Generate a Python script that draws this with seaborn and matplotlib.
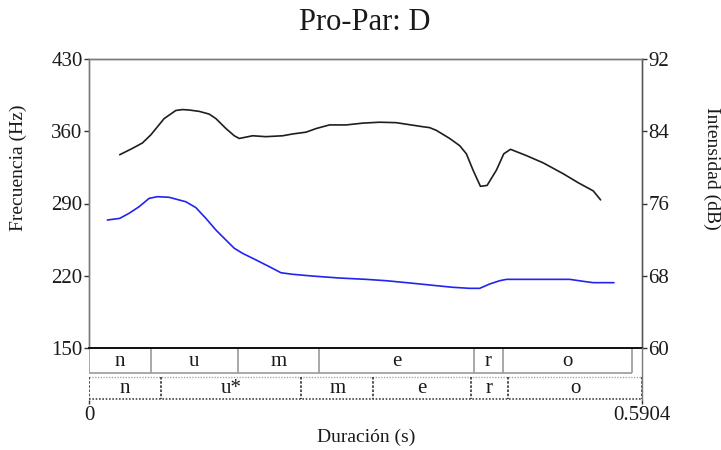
import matplotlib
matplotlib.use("Agg")
import matplotlib.pyplot as plt
import seaborn as sns
import pandas as pd

# ---- data ----
title = "Pro-Par: D"
t_max = 0.5904

f0_time = [0.0196, 0.0328, 0.0428, 0.0535, 0.0642, 0.0731, 0.0856, 0.0963, 0.1034, 0.1141,
           0.1248, 0.1355, 0.1462, 0.1551, 0.1640, 0.1783, 0.1925, 0.2050, 0.2175, 0.2388,
           0.2674, 0.2960, 0.3173, 0.3458, 0.3708, 0.3886, 0.4064, 0.4171, 0.4278, 0.4385,
           0.4457, 0.5134, 0.5276, 0.5383, 0.5605]
f0_hz = [274.0, 275.6, 280.5, 286.9, 295.0, 296.6, 296.0, 293.4, 291.7, 286.0,
         275.6, 264.3, 254.6, 246.6, 241.7, 235.3, 228.8, 222.9, 221.4, 219.7,
         217.8, 216.5, 215.2, 212.7, 210.4, 208.8, 207.8, 207.8, 212.0, 215.2,
         216.5, 216.5, 214.6, 213.3, 213.3]

int_time = [0.0328, 0.0463, 0.0570, 0.0660, 0.0802, 0.0927, 0.0998, 0.1070, 0.1177, 0.1283,
            0.1355, 0.1462, 0.1551, 0.1604, 0.1747, 0.1890, 0.2068, 0.2175, 0.2318, 0.2425,
            0.2567, 0.2746, 0.2923, 0.3102, 0.3280, 0.3565, 0.3637, 0.3708, 0.3851, 0.3958,
            0.4029, 0.4100, 0.4179, 0.4250, 0.4350, 0.4428, 0.4500, 0.4671, 0.4849, 0.5062,
            0.5223, 0.5383, 0.5462]
int_db = [81.4, 82.1, 82.7, 83.6, 85.4, 86.3, 86.4, 86.35, 86.2, 85.9,
          85.4, 84.3, 83.5, 83.2, 83.5, 83.4, 83.5, 83.7, 83.9, 84.3,
          84.7, 84.7, 84.9, 85.0, 84.95, 84.5, 84.4, 84.1, 83.2, 82.4,
          81.5, 79.7, 77.9, 78.0, 79.7, 81.5, 82.0, 81.3, 80.5, 79.3,
          78.3, 77.4, 76.4]

tier1_bounds = [0.0, 0.0659, 0.1588, 0.2454, 0.4108, 0.4418, 0.5794]
tier1_labels = ["n", "u", "m", "e", "r", "o"]
tier2_bounds = [0.0, 0.0764, 0.2267, 0.3034, 0.4077, 0.4476, 0.5904]
tier2_labels = ["n", "u*", "m", "e", "r", "o"]

f0_ticks = [150, 220, 290, 360, 430]
db_ticks = [60, 68, 76, 84, 92]

# ---- style ----
sns.set_theme(style="white")
plt.rcParams["font.family"] = ["Liberation Serif", "DejaVu Serif"]
plt.rcParams["text.color"] = "#1a1a1a"

W, H = 721, 450
fig = plt.figure(figsize=(W / 100, H / 100), dpi=100)
fig.patch.set_facecolor("white")

L, R, T, B = 89, 642, 59, 348
ax = fig.add_axes([L / W, 1 - B / H, (R - L) / W, (B - T) / H])

df_f0 = pd.DataFrame({"t": f0_time, "f0": f0_hz})
df_int = pd.DataFrame({"t": int_time, "db": int_db})

sns.lineplot(data=df_f0, x="t", y="f0", ax=ax, color="#2323f0", lw=1.2,
             sort=False, estimator=None)
ax.set_xlim(0, t_max)
ax.set_ylim(150, 430)
ax.set_yticks(f0_ticks)
ax.set_xticks([])
ax.set_xlabel("")
ax.set_ylabel("")

ax2 = ax.twinx()
sns.lineplot(data=df_int, x="t", y="db", ax=ax2, color="#1e1e1e", lw=1.2,
             sort=False, estimator=None)
ax2.set_ylim(60, 92)
ax2.set_yticks(db_ticks)
ax2.set_ylabel("")
ax2.set_xlim(0, t_max)

spine_gray = "#7a7a7a"
for a in (ax, ax2):
    for s in ("top", "left", "right"):
        a.spines[s].set_color(spine_gray)
        a.spines[s].set_linewidth(1.0)
    a.spines["bottom"].set_color("#111111")
    a.spines["bottom"].set_linewidth(1.3)
ax2.spines["right"].set_color("#555555")

ax.tick_params(axis="y", which="both", left=True, length=3.6, width=1,
               color="#333333", labelsize=15, pad=1, labelcolor="#1a1a1a")
ax2.tick_params(axis="y", which="both", right=True, length=3.6, width=1,
                color="#333333", labelsize=15, pad=1, labelcolor="#1a1a1a")

# ---- tiers ----
TB = 400
tax = fig.add_axes([L / W, 1 - TB / H, (R - L) / W, (TB - B) / H])
tax.set_xlim(0, t_max)
tax.set_ylim(TB - B, 0)
tax.patch.set_alpha(0)
for s in ("top", "left", "bottom"):
    tax.spines[s].set_visible(False)
tax.spines["right"].set_color(spine_gray)
tax.spines["right"].set_linewidth(1.0)
tax.set_yticks([])

t1_top, t1_bot = 0.5, 24.7
t2_top, t2_bot = 28.7, 51.3
g1 = "#9a9a9a"
tax.hlines(t1_bot, tier1_bounds[0], tier1_bounds[-1], color=g1, lw=1.2)
tax.vlines(tier1_bounds, t1_top, t1_bot, color=g1, lw=1.2)
for i, lab in enumerate(tier1_labels):
    tax.text((tier1_bounds[i] + tier1_bounds[i + 1]) / 2, (t1_top + t1_bot) / 2 + 0.5, lab,
             ha="center", va="center", fontsize=15)

tax.hlines(t2_top, tier2_bounds[0], tier2_bounds[-1], color="#a8a8a8", lw=1.0,
           linestyles=(0, (1, 1)))
tax.hlines(t2_bot, tier2_bounds[0], tier2_bounds[-1], color="#444444", lw=1.2,
           linestyles=(0, (1, 1)))
tax.vlines(tier2_bounds, t2_top, t2_bot, color="#333333", lw=1.2,
           linestyles=(0, (1.5, 1)))
for i, lab in enumerate(tier2_labels):
    tax.text((tier2_bounds[i] + tier2_bounds[i + 1]) / 2, (t2_top + t2_bot) / 2 + 0.5, lab,
             ha="center", va="center", fontsize=15)

tax.set_xticks([0, t_max])
tax.set_xticklabels(["0", "0.5904"])
tax.tick_params(axis="x", bottom=True, length=3, width=1, color="#333333",
                labelsize=15, pad=1, labelcolor="#1a1a1a")

# ---- texts ----
fig.text(365 / W, 1 - 22 / H, title, ha="center", va="center", fontsize=22)
fig.text(366 / W, 1 - 437 / H, "Duración (s)", ha="center", va="center", fontsize=14)
fig.text(18 / W, 1 - 168 / H, "Frecuencia (Hz)", ha="center", va="center",
         rotation=90, fontsize=14)
fig.text(712 / W, 1 - 168 / H, "Intensidad (dB)", ha="center", va="center",
         rotation=270, fontsize=14)

fig.savefig("out.png", dpi=100, facecolor="white")
